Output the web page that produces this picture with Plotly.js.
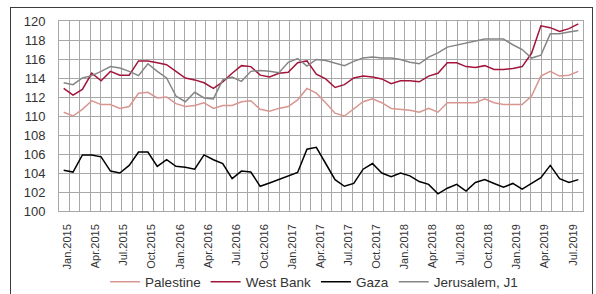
<!DOCTYPE html>
<html>
<head>
<meta charset="utf-8">
<script src="https://cdn.plot.ly/plotly-3.0.1.min.js"></script>
<style>
  html, body { margin: 0; padding: 0; background: #fff; }
  #wrap { position: relative; width: 596px; height: 294px; overflow: hidden; }
  #chart { position: absolute; left: 0; top: 0; width: 596px; height: 294px; }
  #frame { position: absolute; left: 10px; top: 7px; width: 583px; height: 320px;
           box-sizing: border-box; border: 1.6px solid #3c3c3c; pointer-events: none; }
</style>
</head>
<body>
<div id="wrap"><div id="chart"></div><div id="frame"></div></div>
<script>
const months = [
  "Jan.2015","Feb.2015","Mar.2015","Apr.2015","May.2015","Jun.2015","Jul.2015","Aug.2015","Sep.2015","Oct.2015","Nov.2015","Dec.2015",
  "Jan.2016","Feb.2016","Mar.2016","Apr.2016","May.2016","Jun.2016","Jul.2016","Aug.2016","Sep.2016","Oct.2016","Nov.2016","Dec.2016",
  "Jan.2017","Feb.2017","Mar.2017","Apr.2017","May.2017","Jun.2017","Jul.2017","Aug.2017","Sep.2017","Oct.2017","Nov.2017","Dec.2017",
  "Jan.2018","Feb.2018","Mar.2018","Apr.2018","May.2018","Jun.2018","Jul.2018","Aug.2018","Sep.2018","Oct.2018","Nov.2018","Dec.2018",
  "Jan.2019","Feb.2019","Mar.2019","Apr.2019","May.2019","Jun.2019","Jul.2019","Aug.2019"
];
const tickLabels = [
  "Jan.2015","Apr.2015","Jul.2015","Oct.2015","Jan.2016","Apr.2016","Jul.2016","Oct.2016","Jan.2017",
  "Apr.2017","Jul.2017","Oct.2017","Jan.2018","Apr.2018","Jul.2018","Oct.2018","Jan.2019","Apr.2019","Jul.2019"
];
const seriesNames = ["Palestine", "West Bank", "Gaza", "Jerusalem, J1"];

const palestine = [
  110.4,110.0,110.7,111.6,111.2,111.2,110.8,111.0,112.4,112.5,
  111.9,112.0,111.3,111.0,111.1,111.4,110.8,111.1,111.1,111.5,
  111.6,110.7,110.5,110.8,111.0,111.7,112.9,112.4,111.4,110.3,
  110.0,110.8,111.5,111.8,111.4,110.8,110.7,110.6,110.4,110.8,
  110.4,111.4,111.4,111.4,111.4,111.8,111.4,111.2,111.2,111.2,
  112.1,114.2,114.7,114.2,114.3,114.7
];
const westBank = [
  112.9,112.2,112.8,114.5,113.7,114.7,114.3,114.3,115.8,115.8,
  115.6,115.4,114.7,114.0,113.8,113.5,112.9,113.6,114.5,115.3,
  115.2,114.3,114.1,114.5,114.6,115.6,115.8,114.4,113.9,113.0,
  113.3,114.0,114.2,114.1,113.9,113.4,113.7,113.7,113.6,114.2,
  114.5,115.6,115.6,115.2,115.1,115.3,114.9,114.9,115.0,115.2,
  116.6,119.5,119.3,118.9,119.2,119.7
];
const gaza = [
  104.3,104.1,105.9,105.9,105.7,104.2,104.0,104.8,106.2,106.2,
  104.7,105.4,104.7,104.6,104.4,105.9,105.4,105.0,103.4,104.2,
  104.1,102.6,102.95,103.3,103.7,104.05,106.5,106.7,105.0,103.3,
  102.6,102.9,104.4,105.0,104.0,103.6,104.0,103.7,103.1,102.8,
  101.8,102.4,102.8,102.1,103.0,103.3,102.9,102.5,102.9,102.3,
  102.9,103.5,104.8,103.4,103.0,103.3
];
const jerusalem = [
  113.5,113.3,114.0,114.25,114.7,115.2,115.05,114.7,114.25,115.5,
  114.7,114.0,112.1,111.5,112.5,111.9,111.8,113.8,114.1,113.65,
  114.7,114.8,114.7,114.55,115.65,116.05,115.25,115.95,115.85,115.6,
  115.3,115.75,116.1,116.2,116.1,116.1,115.95,115.65,115.5,116.2,
  116.65,117.25,117.45,117.7,117.85,118.1,118.1,118.1,117.5,117.0,
  116.1,116.4,118.65,118.65,118.85,119.0
];

const colors = ["#d9958f", "#a3153b", "#000000", "#858585"];
const values = [palestine, westBank, gaza, jerusalem];

const traces = [{
  x: [0], y: [110], xaxis: "x", yaxis: "y", mode: "markers",
  marker: {opacity: 0}, showlegend: false, hoverinfo: "skip"
}];
seriesNames.forEach((name, k) => {
  traces.push({
    x: months, y: values[k], name: name, xaxis: "x2", yaxis: "y",
    type: "scatter", mode: "lines",
    line: {color: colors[k], width: 1.5}
  });
});

const gridColor = "#a8a8a8";
const layout = {
  width: 596, height: 294,
  margin: {l: 59, r: 13, t: 21, b: 83, autoexpand: false},
  paper_bgcolor: "#ffffff", plot_bgcolor: "#ffffff",
  showlegend: true,
  xaxis: {
    range: [0, 50], dtick: 1, tick0: 0, showgrid: true, gridcolor: gridColor, gridwidth: 1,
    showticklabels: false, zeroline: false, ticks: "",
    showline: true, linecolor: gridColor, linewidth: 1, mirror: true, fixedrange: true
  },
  xaxis2: {
    type: "category", overlaying: "x", anchor: "y", side: "bottom",
    range: [-0.5, months.length - 0.5],
    tickmode: "array", tickvals: tickLabels, ticktext: tickLabels,
    tickangle: -90, showgrid: false, zeroline: false, ticks: "", showline: false,
    ticklabelstandoff: 10, ticklabelshift: 4,
    tickfont: {family: "Liberation Sans, Arial, sans-serif", size: 11, color: "#333333"},
    fixedrange: true
  },
  yaxis: {
    range: [100, 120], dtick: 2, tick0: 100, showgrid: true, gridcolor: gridColor, gridwidth: 1,
    zeroline: false, ticks: "", ticklabelstandoff: 10,
    showline: true, linecolor: gridColor, linewidth: 1, mirror: true,
    tickfont: {family: "Liberation Sans, Arial, sans-serif", size: 13, color: "#333333"},
    fixedrange: true
  },
  legend: {
    orientation: "h", x: 0.088, xanchor: "left",
    yref: "container", y: 0.041, yanchor: "middle",
    font: {family: "Liberation Sans, Arial, sans-serif", size: 13.5, color: "#333333"},
    bgcolor: "rgba(0,0,0,0)", traceorder: "normal"
  }
};

Plotly.newPlot("chart", traces, layout, {displayModeBar: false, staticPlot: true});
</script>
</body>
</html>
